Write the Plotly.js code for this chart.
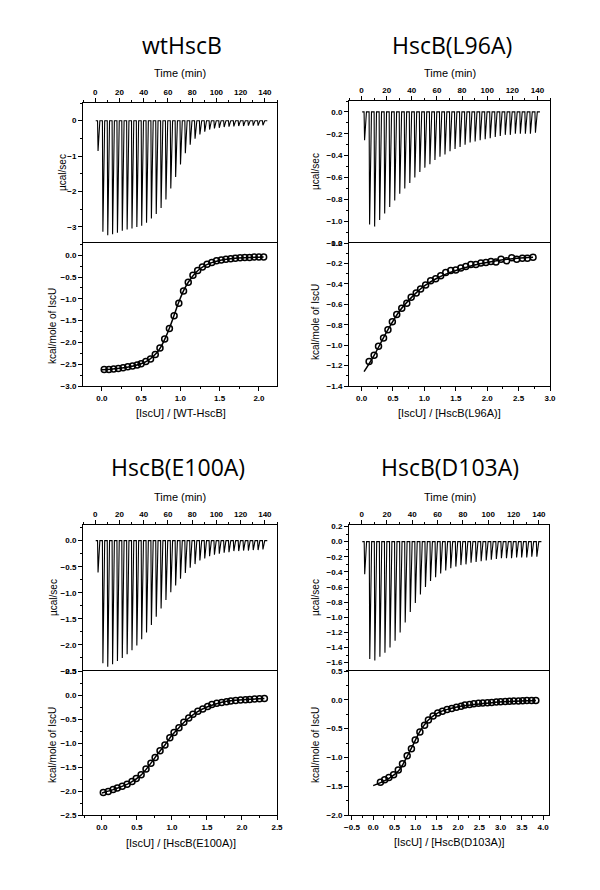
<!DOCTYPE html>
<html>
<head>
<meta charset="utf-8">
<script src="https://cdn.plot.ly/plotly-3.0.1.min.js"></script>
<style>html,body{margin:0;padding:0;background:#fff;}#chart{width:600px;height:890px;}</style>
</head>
<body>
<div id="chart"></div>
<script>
// ---------- DATA ----------
const injectionTime = [2,6,10,14,18,22,26,30,34,38,42,46,50,54,58,62,66,70,74,78,82,86,90,94,98,102,106,110,114,118,122,126,130,134,138];
const baselineSpan = [0.5, 142];

// raw thermogram peak heights (µcal/sec)
const wtRaw = [-0.86,-3.14,-3.24,-3.21,-3.17,-3.11,-3.08,-3.05,-3.01,-2.97,-2.89,-2.77,-2.64,-2.47,-2.23,-1.92,-1.59,-1.24,-0.92,-0.68,-0.51,-0.39,-0.31,-0.25,-0.22,-0.20,-0.18,-0.17,-0.16,-0.15,-0.15,-0.14,-0.14,-0.14,-0.13];
const l96Raw = [-0.26,-1.03,-1.05,-0.99,-0.93,-0.87,-0.81,-0.75,-0.70,-0.65,-0.60,-0.55,-0.51,-0.48,-0.44,-0.41,-0.39,-0.36,-0.34,-0.32,-0.30,-0.28,-0.27,-0.26,-0.25,-0.24,-0.23,-0.22,-0.21,-0.21,-0.20,-0.20,-0.20,-0.20,-0.19];
const e100Raw = [-0.61,-2.35,-2.42,-2.37,-2.31,-2.25,-2.18,-2.10,-2.01,-1.89,-1.76,-1.62,-1.46,-1.30,-1.14,-0.99,-0.86,-0.73,-0.62,-0.52,-0.45,-0.38,-0.34,-0.30,-0.27,-0.25,-0.23,-0.22,-0.20,-0.20,-0.19,-0.19,-0.18,-0.18,-0.17];
const d103Raw = [-0.43,-1.55,-1.57,-1.52,-1.47,-1.40,-1.31,-1.20,-1.07,-0.93,-0.81,-0.70,-0.60,-0.52,-0.47,-0.42,-0.38,-0.35,-0.33,-0.31,-0.30,-0.28,-0.27,-0.26,-0.25,-0.24,-0.23,-0.22,-0.22,-0.22,-0.21,-0.21,-0.21,-0.20,-0.20];

// integrated heats (kcal/mole of IscU)
const wtRatio = [0.03,0.09,0.15,0.21,0.27,0.33,0.39,0.45,0.50,0.56,0.62,0.68,0.74,0.80,0.86,0.92,0.98,1.04,1.10,1.16,1.22,1.28,1.34,1.40,1.46,1.52,1.58,1.64,1.70,1.76,1.82,1.88,1.94,2.00,2.06];
const wtHeat = [-2.62,-2.62,-2.61,-2.60,-2.58,-2.56,-2.54,-2.52,-2.49,-2.44,-2.38,-2.28,-2.13,-1.92,-1.68,-1.39,-1.10,-0.82,-0.62,-0.46,-0.35,-0.27,-0.21,-0.17,-0.13,-0.11,-0.09,-0.08,-0.07,-0.06,-0.05,-0.05,-0.04,-0.04,-0.04];
const wtFitX = [0.0,0.2,0.4,0.5,0.6,0.7,0.75,0.8,0.85,0.9,0.95,1.0,1.05,1.1,1.2,1.3,1.4,1.5,1.7,1.9,2.06];
const wtFitY = [-2.63,-2.60,-2.54,-2.49,-2.40,-2.24,-2.11,-1.93,-1.72,-1.48,-1.22,-0.98,-0.78,-0.62,-0.39,-0.25,-0.17,-0.12,-0.07,-0.05,-0.04];

const l96Ratio = [0.12,0.20,0.27,0.35,0.42,0.49,0.56,0.64,0.72,0.79,0.87,0.94,1.02,1.10,1.18,1.26,1.34,1.42,1.50,1.58,1.66,1.74,1.82,1.90,1.98,2.06,2.14,2.22,2.31,2.39,2.47,2.56,2.64,2.73];
const l96Heat = [-1.16,-1.10,-1.01,-0.93,-0.85,-0.77,-0.70,-0.64,-0.59,-0.53,-0.49,-0.45,-0.41,-0.37,-0.35,-0.32,-0.29,-0.27,-0.265,-0.245,-0.23,-0.21,-0.21,-0.195,-0.19,-0.18,-0.185,-0.16,-0.175,-0.145,-0.16,-0.15,-0.15,-0.14];
const l96FitX = [0.04,0.2,0.4,0.6,0.8,1.0,1.2,1.4,1.6,1.8,2.0,2.2,2.4,2.6,2.73];
const l96FitY = [-1.26,-1.10,-0.87,-0.67,-0.53,-0.42,-0.345,-0.29,-0.25,-0.215,-0.19,-0.17,-0.155,-0.145,-0.14];

const e100Ratio = [0.02,0.09,0.16,0.22,0.29,0.36,0.43,0.49,0.56,0.63,0.70,0.76,0.83,0.90,0.97,1.03,1.10,1.17,1.24,1.30,1.37,1.44,1.51,1.57,1.64,1.71,1.78,1.84,1.91,1.98,2.05,2.11,2.18,2.25,2.32];
const e100Heat = [-2.03,-2.01,-1.97,-1.94,-1.90,-1.86,-1.80,-1.74,-1.66,-1.54,-1.42,-1.30,-1.16,-1.04,-0.89,-0.78,-0.68,-0.57,-0.48,-0.40,-0.34,-0.29,-0.24,-0.20,-0.17,-0.155,-0.14,-0.125,-0.115,-0.105,-0.10,-0.095,-0.085,-0.08,-0.075];
const e100FitX = [0.0,0.2,0.4,0.55,0.7,0.8,0.9,1.0,1.1,1.2,1.35,1.5,1.7,1.9,2.1,2.32];
const e100FitY = [-2.04,-1.95,-1.83,-1.68,-1.42,-1.22,-1.04,-0.84,-0.68,-0.53,-0.36,-0.25,-0.155,-0.11,-0.09,-0.075];

const d103Ratio = [0.17,0.27,0.37,0.48,0.59,0.69,0.80,0.90,0.99,1.10,1.21,1.30,1.41,1.52,1.63,1.74,1.85,1.96,2.07,2.16,2.27,2.37,2.48,2.58,2.69,2.79,2.90,3.00,3.11,3.21,3.31,3.42,3.52,3.62,3.73,3.83];
const d103Heat = [-1.43,-1.39,-1.35,-1.30,-1.22,-1.11,-0.97,-0.85,-0.70,-0.56,-0.44,-0.35,-0.28,-0.23,-0.20,-0.17,-0.15,-0.13,-0.11,-0.09,-0.08,-0.07,-0.06,-0.055,-0.05,-0.045,-0.04,-0.035,-0.03,-0.025,-0.02,-0.02,-0.015,-0.01,-0.01,-0.01];
const d103FitX = [0.0,0.2,0.4,0.6,0.7,0.8,0.9,1.0,1.1,1.2,1.3,1.45,1.6,1.8,2.0,2.4,2.8,3.2,3.6,3.83];
const d103FitY = [-1.49,-1.43,-1.35,-1.23,-1.12,-0.98,-0.84,-0.69,-0.55,-0.44,-0.35,-0.26,-0.20,-0.155,-0.12,-0.08,-0.05,-0.03,-0.015,-0.01];

const panelTitles = ['wtHscB','HscB(L96A)','HscB(E100A)','HscB(D103A)'];
const ratioTitles = ['[IscU] / [WT-HscB]','[IscU] / [HscB(L96A)]','[IscU] / [HscB(E100A)]','[IscU] / [HscB(D103A)]'];

// ---------- BUILD ----------
const W = 600, H = 890;
const px = v => v / W;
const py = v => 1 - v / H;

function thermo(times, peaks) {
  const x = [baselineSpan[0]], y = [0];
  times.forEach((t, i) => { x.push(t, t + 0.4, t + 1.9); y.push(0, peaks[i], 0); });
  x.push(baselineSpan[1]); y.push(0);
  return {x:x, y:y};
}

const traces = [];
function addRaw(times, peaks, ax) {
  const p = thermo(times, peaks);
  traces.push({type:'scatter', mode:'lines', x:p.x, y:p.y,
    xaxis:'x'+ax, yaxis:'y'+ax, line:{color:'#000', width:1.1}, hoverinfo:'skip'});
}
function addIso(rx, ry, fx, fy, ax) {
  traces.push({type:'scatter', mode:'lines', x:fx, y:fy, xaxis:'x'+ax, yaxis:'y'+ax,
    line:{color:'#000', width:1.5, shape:'spline'}, hoverinfo:'skip'});
  traces.push({type:'scatter', mode:'markers', x:rx, y:ry, xaxis:'x'+ax, yaxis:'y'+ax,
    marker:{symbol:'circle-open', size:6, color:'#000', line:{width:1.5, color:'#000'}}, hoverinfo:'skip'});
}
addRaw(injectionTime, wtRaw, '');
addIso(wtRatio, wtHeat, wtFitX, wtFitY, '2');
addRaw(injectionTime, l96Raw, '3');
addIso(l96Ratio, l96Heat, l96FitX, l96FitY, '4');
addRaw(injectionTime, e100Raw, '5');
addIso(e100Ratio, e100Heat, e100FitX, e100FitY, '6');
addRaw(injectionTime, d103Raw, '7');
addIso(d103Ratio, d103Heat, d103FitX, d103FitY, '8');

const tickFont = {family:'Liberation Sans, Arial, sans-serif', size:8, weight:'bold', color:'#000'};
function axis(domain, range, dtick, minor, fmt, anchor, extra) {
  return Object.assign({
    domain: domain, range: range, dtick: dtick, tick0: 0, tickformat: fmt,
    ticks:'outside', ticklen:4, tickwidth:1, tickcolor:'#000',
    minor:{dtick:minor, tick0:0, ticks:'outside', ticklen:2, tickwidth:1, tickcolor:'#000', showgrid:false},
    showline:true, linecolor:'#000', linewidth:1, mirror:true,
    showgrid:false, zeroline:false, tickfont:tickFont, anchor:anchor, fixedrange:true
  }, extra || {});
}

// panel frames in pixels
const P = [
  {l:83, r:277, t:103, m:243, b:386},
  {l:349, r:550, t:101, m:243, b:386},
  {l:83, r:277, t:525, m:671, b:815},
  {l:349, r:549, t:525, m:671, b:815}
];
const xd = p => [px(p.l), px(p.r)];
const yUp = p => [py(p.m), py(p.t)];
const yLo = p => [py(p.b), py(p.m)];
const topX = {side:'top', mirror:false};

const layout = {
  width: W, height: H, margin:{l:0, r:0, t:0, b:0},
  paper_bgcolor:'#fff', plot_bgcolor:'rgba(0,0,0,0)', showlegend:false,
  font:{family:'Liberation Sans, Arial, sans-serif', color:'#000'},
  xaxis:  axis(xd(P[0]), [-10,150], 20, 10, 'd', 'y', topX),
  yaxis:  axis(yUp(P[0]), [-3.46,0.5], 1, 0.5, 'd', 'x'),
  xaxis2: axis(xd(P[0]), [-0.24,2.23], 0.5, 0.25, '.1f', 'y2'),
  yaxis2: axis(yLo(P[0]), [-3.0,0.28], 0.5, 0.25, '.1f', 'x2'),
  xaxis3: axis(xd(P[1]), [-10,150], 20, 10, 'd', 'y3', topX),
  yaxis3: axis(yUp(P[1]), [-1.2,0.1], 0.2, 0.1, '.1f', 'x3'),
  xaxis4: axis(xd(P[1]), [-0.2,3.0], 0.5, 0.25, '.1f', 'y4'),
  yaxis4: axis(yLo(P[1]), [-1.4,0.0], 0.2, 0.1, '.1f', 'x4'),
  xaxis5: axis(xd(P[2]), [-10,150], 20, 10, 'd', 'y5', topX),
  yaxis5: axis(yUp(P[2]), [-2.5,0.3], 0.5, 0.25, '.1f', 'x5'),
  xaxis6: axis(xd(P[2]), [-0.27,2.5], 0.5, 0.25, '.1f', 'y6'),
  yaxis6: axis(yLo(P[2]), [-2.5,0.5], 0.5, 0.25, '.1f', 'x6'),
  xaxis7: axis(xd(P[3]), [-10,148], 20, 10, 'd', 'y7', topX),
  yaxis7: axis(yUp(P[3]), [-1.71,0.22], 0.2, 0.1, '.1f', 'x7'),
  xaxis8: axis(xd(P[3]), [-0.57,4.14], 0.5, 0.25, '.1f', 'y8'),
  yaxis8: axis(yLo(P[3]), [-2.0,0.5], 0.5, 0.25, '.1f', 'x8'),
  annotations: []
};

const titleFont = {family:'Open Sans, Noto Sans, sans-serif', size:23, color:'#000'};
const labFont = {family:'Liberation Sans, Arial, sans-serif', size:11, color:'#000'};
const yLabFont = {family:'Liberation Sans, Arial, sans-serif', size:10, color:'#000'};
function ann(text, x, y, font, angle) {
  layout.annotations.push({text:text, x:px(x), y:py(y), xref:'paper', yref:'paper',
    xanchor:'center', yanchor:'middle', showarrow:false, font:font, textangle:angle || 0});
}
const titlePos = [[182,45],[452,45],[178,467],[450,467]];
const timePos = [[180,73],[450,73],[180,497],[450,497]];
const ratioPos = [[181,413],[449,413],[181,843],[449,842]];
const muPos = [[62,173],[315,172],[53,598],[315,598]];
const kcalPos = [[52,326],[315,322],[52,745],[315,745]];
for (let i = 0; i < 4; i++) {
  ann(panelTitles[i], titlePos[i][0], titlePos[i][1], titleFont);
  ann('Time (min)', timePos[i][0], timePos[i][1], labFont);
  ann(ratioTitles[i], ratioPos[i][0], ratioPos[i][1], labFont);
  ann('µcal/sec', muPos[i][0], muPos[i][1], yLabFont, -90);
  ann('kcal/mole of IscU', kcalPos[i][0], kcalPos[i][1], yLabFont, -90);
}

Plotly.newPlot('chart', traces, layout, {staticPlot:true, displayModeBar:false});
</script>
</body>
</html>
